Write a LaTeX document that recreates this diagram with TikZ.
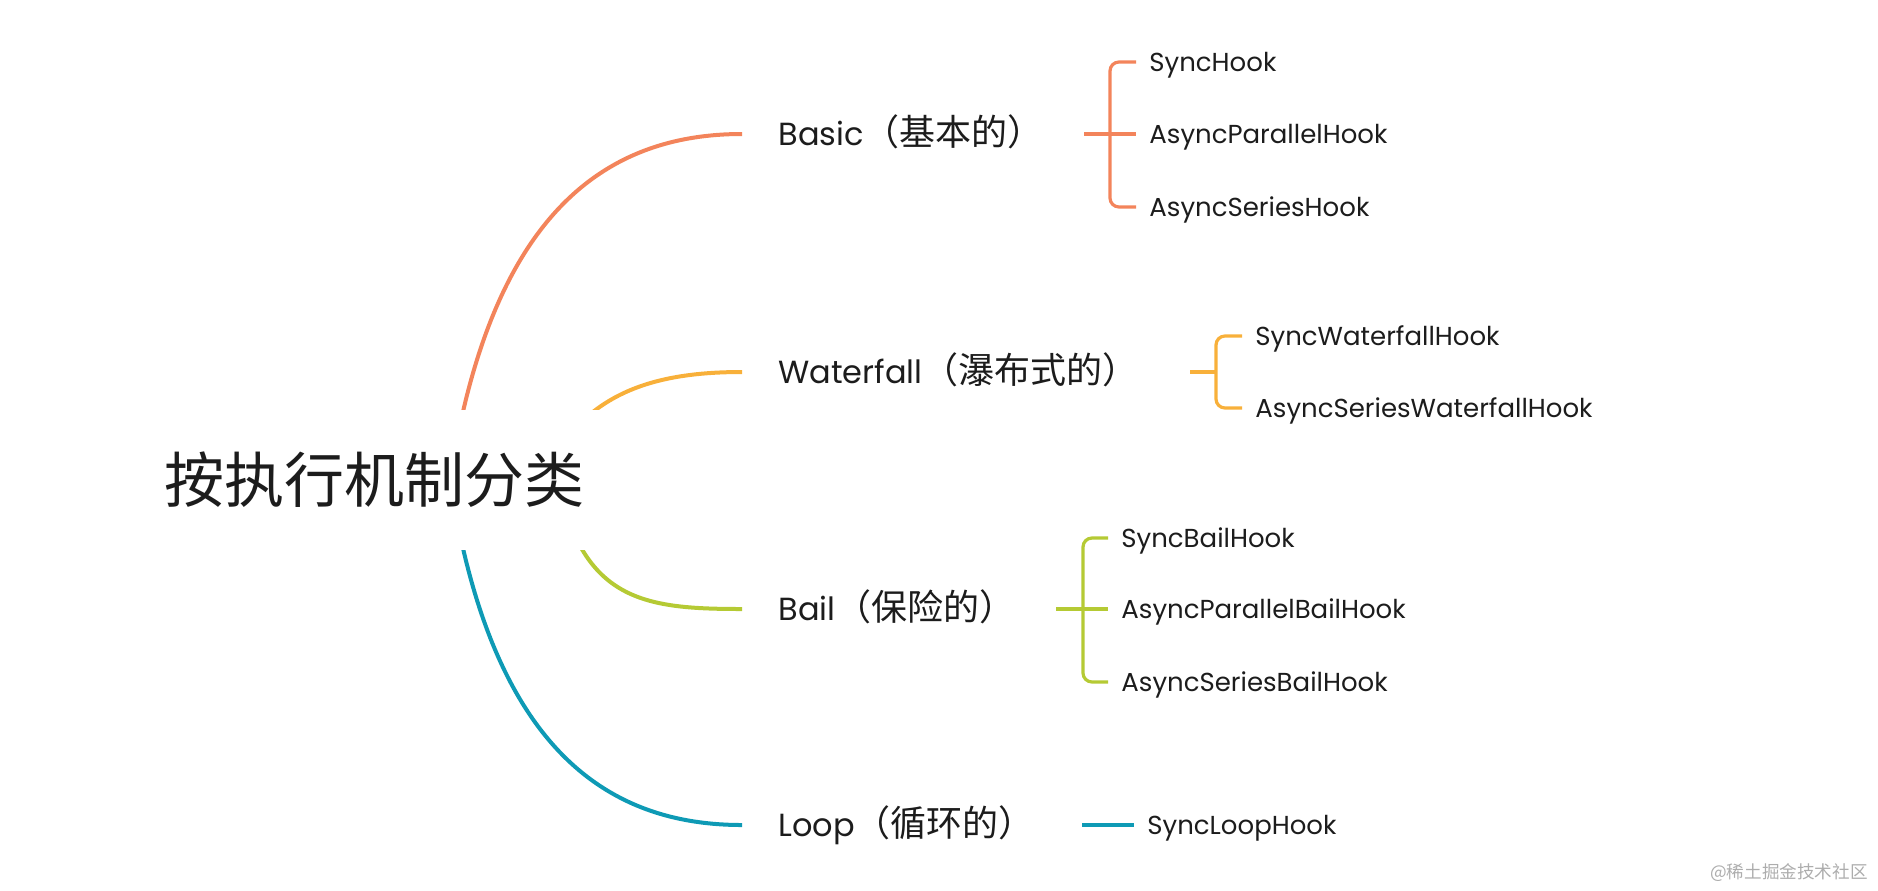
\documentclass[tikz,border=0pt]{standalone}
\usepackage{fontspec}
\setmainfont{Poppins}
\newfontfamily\cjk{Noto Sans CJK SC}
\usetikzlibrary{calc}
\definecolor{cBasic}{RGB}{243,132,91}
\definecolor{cWater}{RGB}{248,176,58}
\definecolor{cBail}{RGB}{181,202,52}
\definecolor{cLoop}{RGB}{14,154,181}
\definecolor{ink}{RGB}{28,28,28}
\newcommand\zh[1]{{\cjk\fontsize{18}{22}\selectfont #1}}
\tikzset{
  lbl/.style={anchor=west, inner sep=0pt, text=ink, font=\fontsize{16}{19}\selectfont, text height=11.2pt, text depth=0pt},
  leaf/.style={anchor=west, inner sep=0pt, text=ink, font=\fontsize{13}{16}\selectfont, text height=9.1pt, text depth=0pt},
  branch/.style={line width=2pt},
  brk/.style={line width=1.6pt, rounded corners=4.5pt},
}
\begin{document}
\begin{tikzpicture}[x=0.5pt,y=-0.5pt]
\useasboundingbox (0,0) rectangle (1878,890);
% labels
\node[lbl] (b) at (778,134) {Basic\zh{（基本的）}};
\node[lbl] (w) at (778,372) {Waterfall\zh{（瀑布式的）}};
\node[lbl] (l) at (778,609) {Bail\zh{（保险的）}};
\node[lbl] (p) at (778,825) {Loop\zh{（循环的）}};
% leaves
\node[leaf] (b1) at (1149,62) {SyncHook};
\node[leaf] (b2) at (1149,134) {AsyncParallelHook};
\node[leaf] (b3) at (1149,207) {AsyncSeriesHook};
\node[leaf] (w1) at (1255,336) {SyncWaterfallHook};
\node[leaf] (w2) at (1255,408) {AsyncSeriesWaterfallHook};
\node[leaf] (l1) at (1121,538) {SyncBailHook};
\node[leaf] (l2) at (1121,609) {AsyncParallelBailHook};
\node[leaf] (l3) at (1121,682) {AsyncSeriesBailHook};
\node[leaf] (p1) at (1147,825) {SyncLoopHook};
% branch curves (start points hidden behind the root node)
\coordinate (rb) at (450,480);
\coordinate (rw) at (540,480);
\coordinate (rl) at (555,470);
\coordinate (rp) at (450,480);
\draw[branch, cBasic] (rb) .. controls (490,220) and (600,134) .. ($(b.west)+(-36,0)$);
\draw[branch, cWater] (rw) .. controls (580,400) and (640,372) .. ($(w.west)+(-36,0)$);
\draw[branch, cBail] (rl) .. controls (580,600) and (640,609) .. ($(l.west)+(-36,0)$);
\draw[branch, cLoop] (rp) .. controls (490,740) and (600,825) .. ($(p.west)+(-36,0)$);
% brackets
\draw[brk, cBasic] ($(b1.west)+(-13,0)$) -| ($(b2.west)+(-39,0)$) |- ($(b3.west)+(-13,0)$);
\draw[brk, cBasic] ($(b2.west)+(-65,0)$) -- ($(b2.west)+(-13,0)$);
\draw[brk, cWater] ($(w1.west)+(-13,0)$) -| ($(w1.west)!0.5!(w2.west)+(-39,0)$) |- ($(w2.west)+(-13,0)$);
\draw[brk, cWater] ($(w1.west)!0.5!(w2.west)+(-65,0)$) -- ($(w1.west)!0.5!(w2.west)+(-39,0)$);
\draw[brk, cBail] ($(l1.west)+(-13,0)$) -| ($(l2.west)+(-38,0)$) |- ($(l3.west)+(-13,0)$);
\draw[brk, cBail] ($(l2.west)+(-65,0)$) -- ($(l2.west)+(-13,0)$);
\draw[brk, cLoop] ($(p1.west)+(-65,0)$) -- ($(p1.west)+(-13,0)$);
% root (white box hides the starts of the branch curves)
\node[fill=white, inner sep=0pt, minimum width=230pt, minimum height=70pt, text=ink, font=\cjk\fontsize{30}{36}\selectfont] (root) at (374,480) {按执行机制分类};
% watermark
\node[anchor=east, inner sep=0pt, text=black!32, font=\cjk\fontsize{8.8}{11}\selectfont] (wm) at (1868,873) {@稀土掘金技术社区};
\end{tikzpicture}
\end{document}
